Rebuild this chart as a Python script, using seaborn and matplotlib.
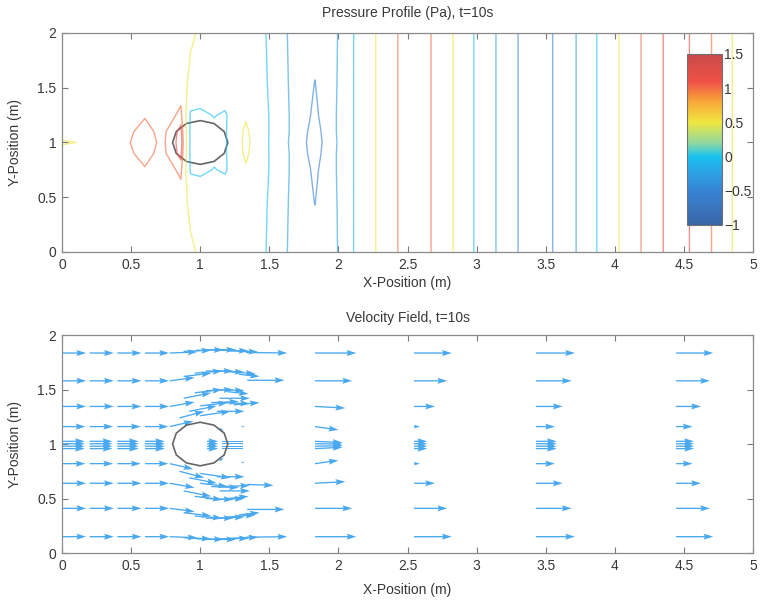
import numpy as np
import matplotlib
matplotlib.use("Agg")
import matplotlib.pyplot as plt
import seaborn as sns
from matplotlib.colors import LinearSegmentedColormap, Normalize
from matplotlib.cm import ScalarMappable
from matplotlib.patches import RegularPolygon
from matplotlib.ticker import MultipleLocator, FuncFormatter

# ---------------- pressure field (Pa) ----------------
x_nodes_left = [0.00, 0.30, 0.45, 0.60, 0.72, 0.80, 0.86, 0.93, 1.00, 1.10,
                1.18, 1.25, 1.33, 1.41, 1.50, 1.65, 1.83, 1.98]
x_nodes_right = [2.11, 2.27, 2.43, 2.55, 2.67, 2.83, 2.98, 3.14, 3.30, 3.43,
                 3.55, 3.72, 3.87, 4.03, 4.19, 4.35, 4.45, 4.54, 4.70, 4.85, 5.00]
y_nodes = [0.0, 0.45, 0.75, 0.90, 1.00, 1.10, 1.25, 1.55, 2.0]

# near-cylinder pressure along rows (channel is symmetric about y = 1)
p_y000 = [0.60, 0.75, 0.80, 0.83, 0.83, 0.82, 0.80, 0.60, 0.42, 0.36,
          0.32, 0.28, 0.22, 0.14, -0.05, -0.28, -0.40, -0.28]
p_y045 = [0.60, 0.75, 0.82, 0.85, 0.85, 0.83, 0.80, 0.35, 0.40, 0.35,
          0.32, 0.28, 0.22, 0.15, -0.03, -0.27, -0.505, -0.27]
p_y075 = [0.60, 0.75, 0.88, 0.98, 0.88, 0.95, 1.08, -0.05, -0.10, 0.02,
          -0.05, 0.20, 0.45, 0.25, -0.01, -0.26, -0.55, -0.26]
p_y090 = [0.90, 0.78, 0.93, 1.08, 0.93, 1.10, 1.28, -0.10, -0.15, -0.10,
          -0.05, 0.28, 0.58, 0.30, -0.01, -0.26, -0.60, -0.26]
p_y100 = [0.40, 0.70, 0.95, 1.12, 0.95, 1.10, 1.35, -0.10, -0.15, -0.15,
          -0.05, 0.30, 0.60, 0.33, -0.02, -0.27, -0.62, -0.27]
# downstream standing-wave profile (same for every row)
p_right = [0.00, 0.50, 1.00, 1.10, 1.00, 0.50, 0.00, -0.25, -0.50, -0.60,
           -0.50, -0.25, 0.00, 0.50, 1.00, 1.20, 1.30, 1.20, 1.00, 0.50, 0.35]

contour_levels = [-0.5, -0.25, 0.0, 0.5, 1.0, 1.2]
cbar_ticks = [-1, -0.5, 0, 0.5, 1, 1.5]
cmap_values = [-1.0, -0.5, -0.2, 0.0, 0.2, 0.5, 0.8, 1.1, 1.5]
cmap_colors = ['#3a66a6', '#3784d4', '#2aa6e6', '#18c2f0', '#90d8a0',
               '#f0e640', '#f8a838', '#f05046', '#c84a4a']

# cylinder
cyl_center = (1.0, 1.0)
cyl_radius = 0.2
cyl_sides = 12

# ---------------- velocity field ----------------
row_y = [0.15, 0.41, 0.64, 0.82, 0.958, 0.98, 1.003, 1.025, 1.16, 1.345, 1.58, 1.835]
far_cols = [0.0, 0.2, 0.4, 0.6, 1.83, 2.547, 3.43, 4.443]
u_x000 = [0.175, 0.175, 0.175, 0.17, 0.165, 0.165, 0.165, 0.165, 0.17, 0.175, 0.175, 0.175]
u_x020 = [0.175, 0.175, 0.175, 0.17, 0.165, 0.165, 0.165, 0.165, 0.17, 0.175, 0.175, 0.175]
u_x040 = [0.175, 0.175, 0.175, 0.17, 0.155, 0.155, 0.155, 0.155, 0.17, 0.175, 0.175, 0.175]
u_x060 = [0.175, 0.175, 0.175, 0.17, 0.145, 0.145, 0.145, 0.145, 0.17, 0.175, 0.175, 0.175]
u_x183 = [0.30, 0.27, 0.22, 0.17, 0.20, 0.20, 0.20, 0.20, 0.17, 0.22, 0.27, 0.30]
v_x183 = [0.0, 0.0, 0.015, 0.03, 0.012, 0.004, -0.004, -0.012, -0.03, -0.015, 0.0, 0.0]
u_x255 = [0.273, 0.241, 0.152, 0.043, 0.096, 0.096, 0.096, 0.096, 0.043, 0.152, 0.241, 0.273]
u_x343 = [0.282, 0.258, 0.193, 0.137, 0.15, 0.15, 0.15, 0.15, 0.137, 0.193, 0.258, 0.282]
u_x444 = [0.27, 0.246, 0.181, 0.12, 0.13, 0.13, 0.13, 0.13, 0.12, 0.181, 0.246, 0.27]

# arrows around the cylinder (tail x, tail y, u, v)
near_x = [0.78, 0.88, 0.97, 1.06, 1.14, 1.22, 1.33,
          0.78, 0.88, 0.96, 1.04, 1.12, 1.20, 1.28, 1.34,
          0.78, 0.88, 0.96, 1.04, 1.12, 1.20, 1.14, 1.24,
          0.78, 0.85, 0.92, 1.00, 1.08, 1.16, 1.00, 1.12, 1.14, 1.30,
          0.78, 0.88, 0.97, 1.06, 1.14, 1.22, 1.33,
          0.78, 0.88, 0.96, 1.04, 1.12, 1.20, 1.28, 1.34,
          0.78, 0.88, 0.96, 1.04, 1.12, 1.20, 1.14, 1.34,
          0.78, 0.85, 0.92, 1.00, 1.08, 1.16, 1.00, 1.12, 1.14, 1.30,
          1.05, 1.05, 1.05, 1.05]
near_y = [1.835, 1.85, 1.86, 1.865, 1.86, 1.855, 1.84,
          1.58, 1.62, 1.65, 1.67, 1.67, 1.665, 1.64, 1.585,
          1.345, 1.42, 1.47, 1.49, 1.50, 1.48, 1.42, 1.36,
          1.16, 1.24, 1.30, 1.35, 1.38, 1.38, 1.26, 1.30, 1.14, 1.16,
          0.15, 0.14, 0.13, 0.125, 0.13, 0.135, 0.145,
          0.41, 0.37, 0.34, 0.32, 0.32, 0.33, 0.35, 0.40,
          0.64, 0.57, 0.52, 0.50, 0.49, 0.50, 0.57, 0.63,
          0.82, 0.75, 0.69, 0.64, 0.61, 0.61, 0.73, 0.70, 0.85, 0.83,
          0.958, 0.98, 1.003, 1.025]
near_u = [0.20, 0.20, 0.20, 0.20, 0.21, 0.20, 0.30,
          0.18, 0.20, 0.20, 0.20, 0.20, 0.20, 0.15, 0.27,
          0.18, 0.20, 0.20, 0.20, 0.20, 0.15, 0.22, 0.19,
          0.17, 0.18, 0.20, 0.20, 0.20, 0.20, 0.22, 0.20, 0.03, 0.02,
          0.20, 0.20, 0.20, 0.20, 0.21, 0.20, 0.30,
          0.18, 0.20, 0.20, 0.20, 0.20, 0.20, 0.15, 0.27,
          0.18, 0.20, 0.20, 0.20, 0.20, 0.15, 0.22, 0.19,
          0.17, 0.18, 0.20, 0.20, 0.20, 0.20, 0.22, 0.20, 0.03, 0.02,
          0.08, 0.08, 0.08, 0.08]
near_v = [0.01, 0.01, 0.005, 0.0, -0.005, -0.01, -0.005,
          0.03, 0.03, 0.02, 0.0, -0.01, -0.02, -0.02, 0.0,
          0.04, 0.05, 0.03, 0.01, -0.01, -0.02, 0.0, 0.02,
          0.05, 0.06, 0.05, 0.03, 0.01, -0.01, 0.04, 0.0, -0.02, 0.0,
          -0.01, -0.01, -0.005, 0.0, 0.005, 0.01, 0.005,
          -0.03, -0.03, -0.02, 0.0, 0.01, 0.02, 0.02, 0.0,
          -0.04, -0.05, -0.03, -0.01, 0.01, 0.02, 0.0, -0.01,
          -0.05, -0.06, -0.05, -0.03, -0.01, 0.01, -0.04, 0.0, 0.02, 0.0,
          0.0, 0.0, 0.0, 0.0]
# thin wake streaks just behind the cylinder
wake_x = [1.16, 1.16, 1.16, 1.16]
wake_y = [0.958, 0.98, 1.003, 1.025]
wake_u = [0.15, 0.15, 0.15, 0.15]
wake_v = [0.0, 0.0, 0.0, 0.0]

# ---------------- styling ----------------
sns.set_theme(style="white")
plt.rcParams['font.family'] = ['Liberation Sans', 'DejaVu Sans']
text_col = '#383838'
spine_col = '#8a8a8a'
arrow_col = '#4aa8ee'
cyl_col = '#666666'

fig = plt.figure(figsize=(7.61, 6.04), dpi=100)
fig.patch.set_facecolor('white')
ax1 = fig.add_axes([0.0815, 0.5828, 0.908, 0.3626])
ax2 = fig.add_axes([0.0815, 0.0844, 0.908, 0.3609])

fmt = FuncFormatter(lambda v, p: f"{v:g}")


def style(ax, title, xlab_y, title_y):
    ax.set_xlim(0, 5)
    ax.set_ylim(0, 2)
    ax.set_facecolor('white')
    ax.xaxis.set_major_locator(MultipleLocator(0.5))
    ax.yaxis.set_major_locator(MultipleLocator(0.5))
    ax.xaxis.set_major_formatter(fmt)
    ax.yaxis.set_major_formatter(fmt)
    ax.tick_params(direction='in', length=4.5, width=0.8, color='#7a7a7a',
                   labelsize=10, labelcolor=text_col, top=True, right=True,
                   bottom=True, left=True, pad=4)
    for s in ax.spines.values():
        s.set_visible(True)
        s.set_color(spine_col)
        s.set_linewidth(0.9)
    ax.set_xlabel('X-Position (m)', fontsize=10, color=text_col)
    ax.set_ylabel('Y-Position (m)', fontsize=10, color=text_col)
    ax.xaxis.set_label_coords(0.5, xlab_y)
    ax.yaxis.set_label_coords(-0.058, 0.5)
    ax.text(0.5, title_y, title, transform=ax.transAxes, ha='center',
            va='center', fontsize=10, color=text_col)
    ax.grid(False)


# ---------------- top: pressure contours ----------------
norm = Normalize(vmin=-1.0, vmax=1.5)
stops = [((v - norm.vmin) / (norm.vmax - norm.vmin), c) for v, c in zip(cmap_values, cmap_colors)]
cmap = LinearSegmentedColormap.from_list('pjet', stops)

X_nodes = np.array(x_nodes_left + x_nodes_right)
rows = [p_y000, p_y045, p_y075, p_y090, p_y100, p_y090, p_y075, p_y045, p_y000]
P = np.array([r + p_right for r in rows])

ax1.contour(X_nodes, np.array(y_nodes), P, levels=contour_levels, cmap=cmap,
            norm=norm, linewidths=1.0, alpha=0.62)
ax1.add_patch(RegularPolygon(cyl_center, numVertices=cyl_sides, radius=cyl_radius,
                             orientation=0, fill=False, edgecolor=cyl_col, lw=1.2))
style(ax1, 'Pressure Profile (Pa), t=10s', -0.11, 1.091)

cax = fig.add_axes([0.9028, 0.6275, 0.046, 0.2831])
cb = fig.colorbar(ScalarMappable(norm=norm, cmap=cmap), cax=cax, ticks=cbar_ticks)
cb.set_ticklabels([f"{t:g}".replace('-', '\u2212') for t in cbar_ticks])
cb.outline.set_edgecolor('#707070')
cb.outline.set_linewidth(0.8)
cax.tick_params(length=0, labelsize=10, pad=1.5, labelcolor=text_col)

# ---------------- bottom: velocity quiver ----------------
u_cols = [u_x000, u_x020, u_x040, u_x060, u_x183, u_x255, u_x343, u_x444]
fx, fy, fu, fv = [], [], [], []
for cx, uc in zip(far_cols, u_cols):
    for j, yy in enumerate(row_y):
        fx.append(cx)
        fy.append(yy)
        fu.append(uc[j])
        fv.append(v_x183[j] if cx == 1.83 else 0.0)

qkw = dict(angles='xy', scale_units='xy', scale=1, color=arrow_col,
           width=0.0019, headwidth=4.6, headlength=7.5, headaxislength=6.5)
ax2.quiver(fx, fy, fu, fv, **qkw)
ax2.quiver(near_x, near_y, near_u, near_v, **qkw)
ax2.quiver(wake_x, wake_y, wake_u, wake_v, angles='xy', scale_units='xy', scale=1,
           color=arrow_col, width=0.0014, headwidth=1, headlength=0, headaxislength=0)
ax2.add_patch(RegularPolygon(cyl_center, numVertices=cyl_sides, radius=cyl_radius,
                             orientation=0, fill=False, edgecolor=cyl_col, lw=1.2, zorder=5))
style(ax2, 'Velocity Field, t=10s', -0.138, 1.078)

fig.savefig('out.png', dpi=100, facecolor='white')
